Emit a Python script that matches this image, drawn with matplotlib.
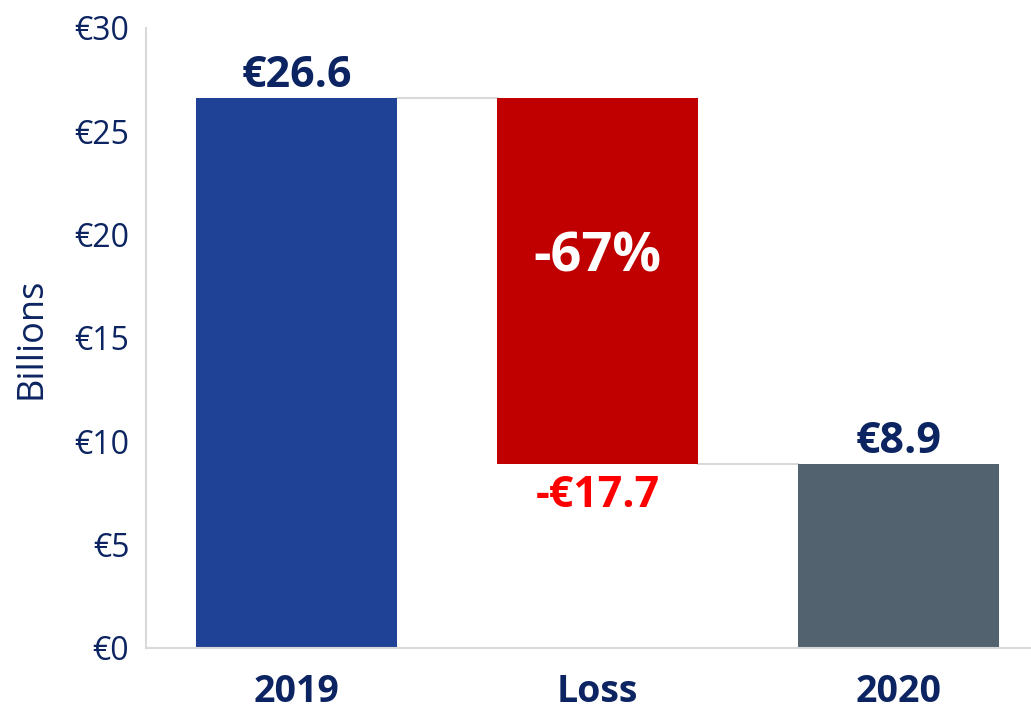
import matplotlib
matplotlib.use('Agg')
import matplotlib.pyplot as plt

plt.rcParams['font.family'] = ['Open Sans', 'DejaVu Sans']

categories = ['2019', 'Loss', '2020']
start_value = 26.6
loss_value = -17.7
end_value = 8.9
loss_pct = '-67%'

navy = '#0c2461'
colors = ['#1f4196', '#c00000', '#52626f']
grid_col = '#d9d9d9'

bottoms = [0, end_value, 0]
heights = [start_value, -loss_value, end_value]

fig = plt.figure(figsize=(10.31, 7.06), dpi=100)
ax = fig.add_axes([146 / 1031, 1 - 648 / 706, 1 - 146 / 1031, 620 / 706])

x = range(len(categories))
ax.bar(x, heights, bottom=bottoms, width=0.667, color=colors, zorder=2)

# connector lines between the bars
w = 0.667 / 2
ax.plot([0 + w, 1 - w], [start_value, start_value], color=grid_col, lw=1.5, zorder=1)
ax.plot([1 + w, 2 - w], [end_value, end_value], color=grid_col, lw=1.5, zorder=1)

ax.set_xlim(-0.5, 2.44)
ax.set_ylim(0, 30)
ax.set_yticks(range(0, 31, 5))
ax.set_yticklabels(['€%d' % v for v in range(0, 31, 5)])
ax.set_xticks(list(x))
ax.set_xticklabels(categories, fontsize=27, fontweight='bold', color=navy)
ax.tick_params(axis='y', length=0, pad=12, labelsize=23, labelcolor=navy)
ax.tick_params(axis='x', length=0, pad=18)
ax.set_ylabel('Billions', fontsize=26, color=navy, labelpad=18)

for s in ['top', 'right']:
    ax.spines[s].set_visible(False)
for s in ['left', 'bottom']:
    ax.spines[s].set_color(grid_col)
    ax.spines[s].set_linewidth(1.5)

ax.annotate('€%.1f' % start_value, (0, start_value), xytext=(0, 8), textcoords='offset points',
            ha='center', va='baseline', fontsize=31, fontweight='bold', color=navy)
ax.annotate('€%.1f' % end_value, (2, end_value), xytext=(0, 8), textcoords='offset points',
            ha='center', va='baseline', fontsize=31, fontweight='bold', color=navy)
ax.annotate('-€%.1f' % abs(loss_value), (1, end_value), xytext=(0, -7), textcoords='offset points',
            ha='center', va='top', fontsize=31, fontweight='bold', color='#ff0000')
ax.annotate(loss_pct, (1, start_value), xytext=(0, -115), textcoords='offset points',
            ha='center', va='center', fontsize=39, fontweight='bold', color='white')

fig.savefig('out.png', dpi=100)
